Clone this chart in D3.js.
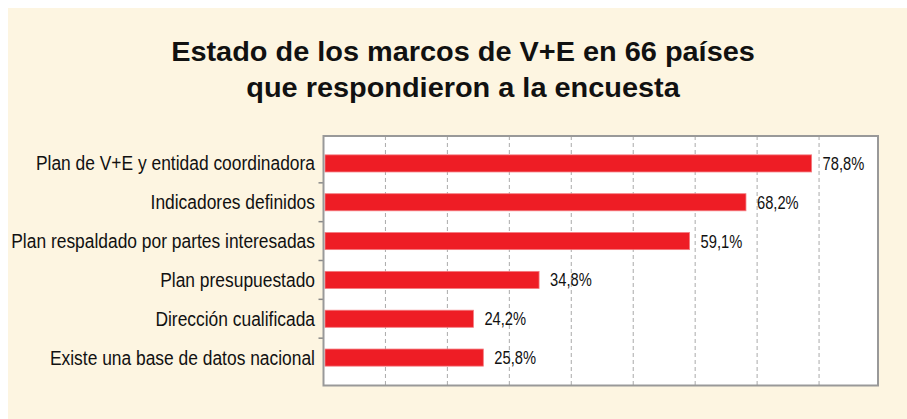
<!DOCTYPE html>
<html>
<head>
<meta charset="utf-8">
<script src="https://cdn.jsdelivr.net/npm/d3@7"></script>
<style>
  body { margin: 0; background: #fff; }
  text { font-family: "Liberation Sans", Arial, sans-serif; }
</style>
</head>
<body>
<div id="chart"></div>
<script>
'use strict';

// data
var categories = [
    "Plan de V+E y entidad coordinadora",
    "Indicadores definidos",
    "Plan respaldado por partes interesadas",
    "Plan presupuestado",
    "Dirección cualificada",
    "Existe una base de datos nacional"
];
var values = [78.8, 68.2, 59.1, 34.8, 24.2, 25.8];
var valueLabels = ["78,8%", "68,2%", "59,1%", "34,8%", "24,2%", "25,8%"];
var gridTicks = [10, 20, 30, 40, 50, 60, 70, 80];
var titleLines = ["Estado de los marcos de V+E en 66 países", "que respondieron a la encuesta"];

var width = 907, height = 419;
var plot = {left: 323.5, right: 878, top: 136, bottom: 385.5};

var svg = d3.select("#chart").append("svg")
    .attr("width", width)
    .attr("height", height);

// cream panel (white strip top and left like the scan)
svg.append("rect")
    .attr("x", 8).attr("y", 8)
    .attr("width", width - 8).attr("height", height - 8)
    .style("fill", "#fdf5e1");

// squeeze/stretch text horizontally (Arial Narrow look)
function narrow(sel, k) {
    sel.each(function() {
        var len = this.getComputedTextLength();
        d3.select(this).attr("textLength", len * k).attr("lengthAdjust", "spacingAndGlyphs");
    });
}

svg.selectAll(".title")
    .data(titleLines)
    .enter().append("text")
    .attr("class", "title")
    .attr("x", 463)
    .attr("y", (d, i) => 61 + i * 36)
    .attr("text-anchor", "middle")
    .style("font-size", "27px")
    .style("font-weight", "bold")
    .style("fill", "#111")
    .text(d => d)
    .call(narrow, 1.07);

var x = d3.scaleLinear().domain([0, 90]).range([plot.left, 881]);
var y = d3.scaleBand().domain(categories).range([144, 377])
    .paddingInner(0.56).paddingOuter(0.28);

svg.append("rect")
    .attr("x", plot.left).attr("y", plot.top)
    .attr("width", plot.right - plot.left).attr("height", plot.bottom - plot.top)
    .style("fill", "#fff");

// dashed gridlines
svg.selectAll(".grid")
    .data(gridTicks)
    .enter().append("line")
    .attr("x1", d => x(d)).attr("x2", d => x(d))
    .attr("y1", plot.top).attr("y2", plot.bottom)
    .style("stroke", "#aaa")
    .style("stroke-width", 1)
    .style("stroke-dasharray", "4,3");

// category ticks between bands
var step = y.step();
svg.selectAll(".ytick")
    .data(categories.slice(1))
    .enter().append("line")
    .attr("x1", plot.left - 5).attr("x2", plot.left)
    .attr("y1", d => y(d) - step * y.paddingInner() / 2)
    .attr("y2", d => y(d) - step * y.paddingInner() / 2)
    .style("stroke", "#888")
    .style("stroke-width", 1.5);

svg.selectAll(".bar")
    .data(values)
    .enter().append("rect")
    .attr("x", x(0) + 1.5)
    .attr("y", (d, i) => y(categories[i]))
    .attr("width", d => x(d) - x(0) - 1.5)
    .attr("height", y.bandwidth())
    .style("fill", "#ee1d25")
    .style("stroke", "#f47a7f")
    .style("stroke-width", 0.8);

svg.selectAll(".val")
    .data(values)
    .enter().append("text")
    .attr("x", d => x(d) + 11)
    .attr("y", (d, i) => y(categories[i]) + y.bandwidth() / 2 + 6.5)
    .style("font-size", "17.5px")
    .style("fill", "#111")
    .text((d, i) => valueLabels[i])
    .call(narrow, 0.84);

svg.selectAll(".cat")
    .data(categories)
    .enter().append("text")
    .attr("x", 315)
    .attr("y", d => y(d) + y.bandwidth() / 2 + 7)
    .attr("text-anchor", "end")
    .style("font-size", "20px")
    .style("fill", "#111")
    .text(d => d)
    .call(narrow, 0.87);

// plot frame
svg.append("rect")
    .attr("x", plot.left).attr("y", plot.top)
    .attr("width", plot.right - plot.left).attr("height", plot.bottom - plot.top)
    .style("fill", "none")
    .style("stroke", "#999")
    .style("stroke-width", 2);
</script>
</body>
</html>
